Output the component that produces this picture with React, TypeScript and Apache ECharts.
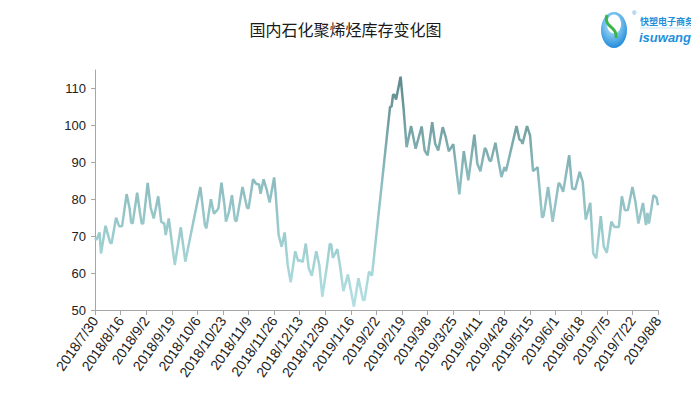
import React, { useEffect, useRef } from "react";
import * as echarts from "echarts";

const chartTitle = "国内石化聚烯烃库存变化图";
const firstDayUTC = Date.UTC(2018, 6, 30);
const dayCount = 375;
const labelEvery = 17;
const yTicks = [50, 60, 70, 80, 90, 100, 110];

const q3_2018: [string, number][] = [
  ["2018/7/30", 69.5], ["2018/7/31", 69], ["2018/8/2", 71], ["2018/8/3", 65.3], ["2018/8/6", 72.8],
  ["2018/8/9", 68.3], ["2018/8/10", 68], ["2018/8/13", 75], ["2018/8/15", 72.7], ["2018/8/17", 72.7],
  ["2018/8/20", 81.4], ["2018/8/22", 77.5], ["2018/8/23", 73.7], ["2018/8/24", 73.4], ["2018/8/27", 81.8],
  ["2018/8/29", 76], ["2018/8/30", 73.4], ["2018/8/31", 73.4], ["2018/9/3", 84.4], ["2018/9/5", 77.7],
  ["2018/9/7", 74.8], ["2018/9/10", 80.8], ["2018/9/12", 73.9], ["2018/9/14", 73.4], ["2018/9/15", 70.3],
  ["2018/9/17", 74.8], ["2018/9/21", 62.2], ["2018/9/25", 72.4], ["2018/9/28", 63.1],
];

const q4_2018: [string, number][] = [
  ["2018/10/8", 83.3], ["2018/10/11", 73], ["2018/10/12", 72.1], ["2018/10/15", 80], ["2018/10/17", 76.1],
  ["2018/10/19", 77], ["2018/10/20", 77.5], ["2018/10/22", 84.5], ["2018/10/24", 78.4], ["2018/10/25", 73.9],
  ["2018/10/27", 76.6], ["2018/10/29", 81.1], ["2018/10/31", 74.3], ["2018/11/1", 74], ["2018/11/5", 83.3],
  ["2018/11/8", 77.7], ["2018/11/9", 77.5], ["2018/11/12", 85.4], ["2018/11/14", 84.2], ["2018/11/16", 84],
  ["2018/11/17", 81.5], ["2018/11/19", 85.4], ["2018/11/21", 82.7], ["2018/11/23", 79.1], ["2018/11/26", 85.9],
  ["2018/11/27", 81.5], ["2018/11/29", 70.3], ["2018/12/1", 67.1], ["2018/12/3", 71], ["2018/12/5", 62.2],
  ["2018/12/7", 57.5], ["2018/12/10", 65.9], ["2018/12/12", 63.2], ["2018/12/13", 63.5], ["2018/12/15", 63],
  ["2018/12/17", 68], ["2018/12/19", 61.3], ["2018/12/21", 59.3], ["2018/12/24", 65.9], ["2018/12/26", 62.2],
  ["2018/12/28", 53.6], ["2018/12/31", 61.7],
];

const q1_2019: [string, number][] = [
  ["2019/1/2", 68], ["2019/1/3", 67.6], ["2019/1/4", 64.1], ["2019/1/7", 66.5], ["2019/1/9", 61.3],
  ["2019/1/11", 55.1], ["2019/1/14", 59.6], ["2019/1/18", 50.9], ["2019/1/21", 58.6], ["2019/1/24", 52.7],
  ["2019/1/25", 52.7], ["2019/1/28", 60.4], ["2019/1/30", 59.3], ["2019/2/11", 105], ["2019/2/12", 105.1],
  ["2019/2/13", 108.3], ["2019/2/14", 108.3], ["2019/2/15", 107], ["2019/2/18", 113.2], ["2019/2/20", 104.5],
  ["2019/2/22", 94.1], ["2019/2/25", 99.8], ["2019/2/28", 93.7], ["2019/3/4", 99.7], ["2019/3/6", 93.2],
  ["2019/3/8", 91.9], ["2019/3/11", 100.9], ["2019/3/13", 95], ["2019/3/15", 93.2], ["2019/3/18", 99.5],
  ["2019/3/20", 96.8], ["2019/3/22", 93], ["2019/3/25", 94.9], ["2019/3/29", 81.3],
];

const q2_2019: [string, number][] = [
  ["2019/4/1", 93], ["2019/4/4", 85.1], ["2019/4/8", 97.5], ["2019/4/10", 89.6], ["2019/4/12", 87.6],
  ["2019/4/15", 93.9], ["2019/4/16", 93.2], ["2019/4/18", 90.5], ["2019/4/19", 90.3], ["2019/4/22", 95.3],
  ["2019/4/24", 90.5], ["2019/4/26", 86], ["2019/4/28", 88.7], ["2019/4/29", 87.6], ["2019/5/6", 99.8],
  ["2019/5/8", 96.1], ["2019/5/9", 96], ["2019/5/10", 95], ["2019/5/13", 99.8], ["2019/5/15", 97.3],
  ["2019/5/17", 87.6], ["2019/5/19", 88.3], ["2019/5/20", 88.7], ["2019/5/23", 75], ["2019/5/24", 75.5],
  ["2019/5/27", 83.3], ["2019/5/30", 73.9], ["2019/6/3", 84.4], ["2019/6/4", 84], ["2019/6/6", 82],
  ["2019/6/10", 91.9], ["2019/6/12", 82.9], ["2019/6/14", 82.7], ["2019/6/17", 87.4], ["2019/6/19", 84.7],
  ["2019/6/21", 74.5], ["2019/6/24", 79], ["2019/6/26", 65.3], ["2019/6/28", 64],
];

const q3_2019: [string, number][] = [
  ["2019/7/1", 75.4], ["2019/7/3", 67.1], ["2019/7/5", 65.5], ["2019/7/8", 73.9], ["2019/7/10", 72.5],
  ["2019/7/13", 72.5], ["2019/7/15", 80.8], ["2019/7/17", 77], ["2019/7/19", 77.1], ["2019/7/22", 83.3],
  ["2019/7/24", 79.3], ["2019/7/26", 73.4], ["2019/7/29", 79], ["2019/7/31", 73], ["2019/8/1", 76.3],
  ["2019/8/2", 73.4], ["2019/8/5", 81.1], ["2019/8/7", 80.4], ["2019/8/8", 78.4],
];

const categories: string[] = [];
for (let i = 0; i < dayCount; i++) {
  const d = new Date(firstDayUTC + i * 86400000);
  categories.push(`${d.getUTCFullYear()}/${d.getUTCMonth() + 1}/${d.getUTCDate()}`);
}

export default function App() {
  const ref = useRef<HTMLDivElement>(null);
  useEffect(() => {
    if (!ref.current) return;
    const chart = echarts.init(ref.current, undefined, { renderer: "svg" });
    const points = [...q3_2018, ...q4_2018, ...q1_2019, ...q2_2019, ...q3_2019].map(
      ([d, v]) => [categories.indexOf(d), v]
    );
    const axisGray = "#a6a6a6";
    const blue = "#1f8fdc";
    chart.setOption({
      animation: false,
      backgroundColor: "#ffffff",
      title: {
        text: chartTitle,
        left: "center",
        top: 16,
        textStyle: {
          fontSize: 16,
          fontWeight: "normal",
          color: "#1a1a1a",
          fontFamily: "Noto Sans CJK SC",
        },
      },
      grid: { left: 95, right: 33, top: 70, bottom: 109, containLabel: false },
      xAxis: {
        type: "category",
        data: categories,
        boundaryGap: false,
        axisLine: { show: true, lineStyle: { color: axisGray, width: 1 } },
        axisTick: { show: true, interval: labelEvery - 1, length: 5, lineStyle: { color: axisGray } },
        axisLabel: {
          interval: labelEvery - 1,
          rotate: 55,
          fontSize: 14,
          color: "#222",
          fontFamily: "Liberation Sans",
          margin: 8,
        },
        splitLine: { show: false },
      },
      yAxis: {
        type: "value",
        min: 50,
        max: 115,
        interval: 10,
        axisLine: { show: true, lineStyle: { color: axisGray, width: 1 } },
        axisTick: { show: true, length: 4, lineStyle: { color: axisGray }, customValues: yTicks },
        axisLabel: {
          fontSize: 13,
          color: "#222",
          fontFamily: "Liberation Sans",
          margin: 9,
          customValues: yTicks,
        },
        splitLine: { show: false },
      },
      series: [
        {
          type: "line",
          data: points,
          symbol: "none",
          showSymbol: false,
          lineStyle: {
            width: 2.5,
            color: new echarts.graphic.LinearGradient(0, 0, 0, 1, [
              { offset: 0, color: "#5f8a8c" },
              { offset: 0.45, color: "#8cbcbf" },
              { offset: 1, color: "#b2e0e3" },
            ]),
          },
        },
      ],
      graphic: [
        {
          type: "ellipse",
          shape: { cx: 614, cy: 30, rx: 13, ry: 18 },
          style: {
            fill: new echarts.graphic.RadialGradient(0.45, 0.35, 0.7, [
              { offset: 0, color: "#c8f2ff" },
              { offset: 1, color: "#1684d8" },
            ]),
          },
        },
        {
          type: "ellipse",
          shape: { cx: 614, cy: 24, rx: 7, ry: 9.5 },
          style: { fill: "#ffffff" },
        },
        {
          type: "bezierCurve",
          shape: { x1: 607, y1: 15, x2: 616, y2: 38, cpx1: 603, cpy1: 28, cpx2: 618, cpy2: 26 },
          style: { stroke: "#3cb44a", lineWidth: 3, fill: null },
        },
        {
          type: "text",
          style: { text: "®", x: 632, y: 13, fontSize: 6, fill: blue, textVerticalAlign: "middle" },
        },
        {
          type: "text",
          style: {
            text: "快塑电子商务",
            x: 640,
            y: 21,
            fontSize: 9,
            fontWeight: "bold",
            fill: blue,
            fontFamily: "Noto Sans CJK SC",
            textVerticalAlign: "middle",
          },
        },
        {
          type: "line",
          shape: { x1: 640, y1: 28, x2: 691, y2: 28 },
          style: { stroke: "#9fd0f0", lineWidth: 0.6 },
        },
        {
          type: "text",
          style: {
            text: "isuwang.com",
            x: 639,
            y: 37,
            fontSize: 13,
            fontStyle: "italic",
            fontWeight: "bold",
            fill: blue,
            fontFamily: "Liberation Sans",
            textVerticalAlign: "middle",
          },
        },
      ],
    });
    return () => chart.dispose();
  }, []);
  return (
    <div
      ref={ref}
      style={{ position: "fixed", left: 0, top: 0, width: 691, height: 419, background: "#fff" }}
    />
  );
}
